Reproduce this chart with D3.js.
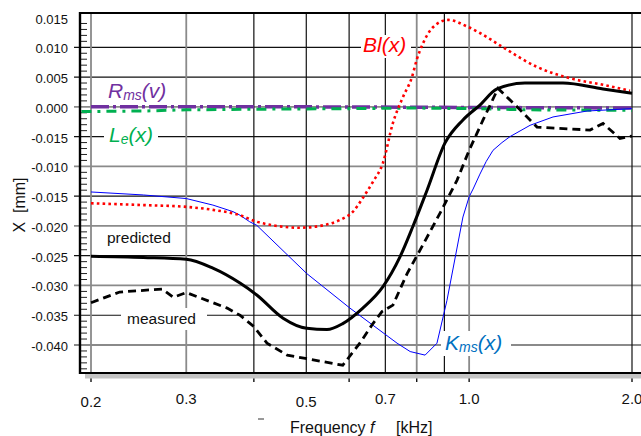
<!DOCTYPE html>
<html><head><meta charset="utf-8">
<script src="https://cdn.jsdelivr.net/npm/d3@7"></script>
<style>body{margin:0;background:#fff;} svg{display:block;font-family:"Liberation Sans",Arial,sans-serif;}</style>
</head><body><svg id="c" width="641" height="436"></svg>
<script>
// ---------- data ----------
const yTickValues = [0.015, 0.010, 0.005, 0.000, -0.005, -0.010, -0.015, -0.020, -0.025, -0.030, -0.035, -0.040];
const yTickLabels = ["0.015", "0.010", "0.005", "0.000", "-0.015", "-0.010", "-0.015", "-0.020", "-0.025", "-0.030", "-0.035", "-0.040"];
const xTickValues = [0.2, 0.3, 0.5, 0.7, 1.0, 2.0];
const xTickLabels = ["0.2", "0.3", "0.5", "0.7", "1.0", "2.0"];
const xGridValues = [0.2, 0.3, 0.4, 0.5, 0.6, 0.7, 0.8, 0.9, 1.0, 2.0];
const xMajorTickValues = [0.2, 0.4, 0.6, 0.8, 1.0, 2.0];
const xGrayGrid = [0.2, 0.3, 0.8, 1.0];
const yGrayGrid = [0.000, -0.010, -0.020, -0.030, -0.040];

// Bl(x) – red dotted
const blFreq  = [0.2, 0.25, 0.3, 0.336, 0.377, 0.405, 0.434, 0.487, 0.537, 0.577, 0.610, 0.636, 0.664, 0.693, 0.723, 0.755, 0.784, 0.8, 0.822, 0.858, 0.914, 0.991, 1.047, 1.155, 1.335, 1.536, 1.768, 1.983];
const blValue = [-0.0162, -0.0165, -0.0168, -0.0173, -0.0182, -0.0193, -0.0199, -0.0203, -0.0199, -0.0190, -0.0176, -0.0153, -0.0126, -0.0094, -0.0027, 0.0017, 0.0050, 0.0079, 0.0107, 0.0134, 0.0146, 0.0135, 0.0124, 0.0100, 0.0067, 0.0048, 0.0037, 0.0027];

// predicted – solid black
const predFreq  = [0.2, 0.25, 0.3, 0.336, 0.377, 0.405, 0.453, 0.501, 0.546, 0.584, 0.636, 0.693, 0.745, 0.787, 0.836, 0.902, 0.974, 1.047, 1.126, 1.268, 1.491, 1.768, 2.0];
const predValue = [-0.0251, -0.0253, -0.0256, -0.0271, -0.0296, -0.0316, -0.0355, -0.0372, -0.0374, -0.0364, -0.0338, -0.0302, -0.0252, -0.0201, -0.0140, -0.0061, -0.0022, 0.0003, 0.0030, 0.0040, 0.0040, 0.0030, 0.0023];

// measured – dashed black
const measFreq  = [0.2, 0.226, 0.271, 0.284, 0.3, 0.357, 0.377, 0.4, 0.423, 0.461, 0.584, 0.628, 0.664, 0.690, 0.723, 0.768, 0.811, 0.883, 0.950, 1.0, 1.061, 1.131, 1.242, 1.335, 1.673, 1.768, 1.900, 2.0];
const measValue = [-0.0329, -0.0311, -0.0306, -0.0320, -0.0312, -0.0338, -0.0350, -0.0369, -0.0397, -0.0417, -0.0434, -0.0397, -0.0364, -0.0344, -0.0333, -0.0280, -0.0241, -0.0179, -0.0123, -0.0073, -0.0022, 0.0031, -0.0005, -0.0034, -0.0039, -0.0028, -0.0053, -0.0049];

// Kms(x) – thin blue
const kmsFreq  = [0.2, 0.25, 0.3, 0.336, 0.366, 0.377, 0.393, 0.405, 0.501, 0.602, 0.736, 0.778, 0.829, 0.872, 0.910, 0.974, 1.0, 1.017, 1.047, 1.075, 1.107, 1.15, 1.19, 1.296, 1.429, 1.652, 2.0];
const kmsValue = [-0.0143, -0.0148, -0.0154, -0.0165, -0.0176, -0.0182, -0.0193, -0.0199, -0.0280, -0.0338, -0.0397, -0.0411, -0.0417, -0.0397, -0.0325, -0.0185, -0.0151, -0.0138, -0.0113, -0.0092, -0.0073, -0.0060, -0.0050, -0.0031, -0.0017, -0.0007, -0.0003];

// Rms(v) – purple dash-dot
const rmsFreq  = [0.2, 0.5, 1.0, 2.0];
const rmsValue = [0.0000, 0.0000, -0.0001, -0.0002];

// Le(x) – green dash-dot
const leFreq  = [0.192, 0.25, 0.3, 0.4, 0.6, 0.8, 1.0, 1.3, 2.0];
const leValue = [-0.0008, -0.0007, -0.0005, -0.0004, -0.0003, -0.0002, -0.0003, -0.0005, -0.0006];

// ---------- layout ----------
const L = 80, T = 13, R = 641, B = 373;
const svg = d3.select("#c");
const x = d3.scaleLog().domain([0.2, 2.0]).range([91, 632]);
const y = d3.scaleLinear().domain([0.010, -0.040]).range([47.3, 345]);

svg.append("defs").append("clipPath").attr("id", "clip")
  .append("rect").attr("x", L).attr("y", T).attr("width", R - L).attr("height", B - T);

// horizontal grid lines
const gridG = svg.append("g");
yTickValues.filter(v => v <= 0.0101).forEach(v => {
  const gray = yGrayGrid.some(g => Math.abs(g - v) < 1e-9);
  gridG.append("line").attr("x1", 74).attr("x2", R).attr("y1", y(v)).attr("y2", y(v))
    .attr("stroke", gray ? "#8a8a8a" : "#111").attr("stroke-width", gray ? 1.8 : 1.2);
});
// vertical grid lines
xGridValues.forEach(f => {
  const gray = xGrayGrid.some(g => Math.abs(g - f) < 1e-9);
  gridG.append("line").attr("x1", x(f)).attr("x2", x(f)).attr("y1", T).attr("y2", B)
    .attr("stroke", gray ? "#8a8a8a" : "#111").attr("stroke-width", gray ? 1.8 : 1.2);
});
// ticks below x axis
xMajorTickValues.forEach(f => {
  gridG.append("line").attr("x1", x(f)).attr("x2", x(f)).attr("y1", B).attr("y2", 382)
    .attr("stroke", "#111").attr("stroke-width", 1.4);
});
// minor ticks on y axis
d3.range(-44, 16).filter(k => k % 5 !== 0).forEach(k => {
  const v = k / 1000;
  gridG.append("line").attr("x1", L).attr("x2", 87).attr("y1", y(v)).attr("y2", y(v))
    .attr("stroke", "#222").attr("stroke-width", 1);
});

// label background boxes
const boxes = [[361, 35, 50, 23], [104, 78, 66, 25], [104, 121, 54, 29], [441, 331, 70, 25], [121, 308, 86, 22]];
boxes.forEach(b => svg.append("rect").attr("x", b[0]).attr("y", b[1]).attr("width", b[2]).attr("height", b[3]).attr("fill", "#fff"));

// series
const plot = svg.append("g").attr("clip-path", "url(#clip)");
function pts(fs, vs) { return fs.map((f, i) => [f, vs[i]]); }
const lineSmooth = d3.line().x(d => x(d[0])).y(d => y(d[1])).curve(d3.curveMonotoneX);
const lineLin = d3.line().x(d => x(d[0])).y(d => y(d[1]));

plot.append("path").attr("d", lineLin(pts(rmsFreq, rmsValue))).attr("fill", "none")
  .attr("stroke", "#7030a0").attr("stroke-width", 3.5).attr("stroke-dasharray", "18 4 3 4");
plot.append("path").attr("d", lineLin(pts(leFreq, leValue))).attr("fill", "none")
  .attr("stroke", "#00b050").attr("stroke-width", 3).attr("stroke-dasharray", "10 6 3 6");
plot.append("path").attr("d", lineLin(pts(kmsFreq, kmsValue))).attr("fill", "none")
  .attr("stroke", "#0000ff").attr("stroke-width", 1).attr("stroke-linejoin", "round");
plot.append("path").attr("d", lineSmooth(pts(blFreq, blValue))).attr("fill", "none")
  .attr("stroke", "#ff0000").attr("stroke-width", 2.6).attr("stroke-dasharray", "2.6 3.2");
plot.append("path").attr("d", lineSmooth(pts(predFreq, predValue))).attr("fill", "none")
  .attr("stroke", "#000").attr("stroke-width", 3).attr("stroke-linejoin", "round");
plot.append("path").attr("d", lineLin(pts(measFreq, measValue))).attr("fill", "none")
  .attr("stroke", "#000").attr("stroke-width", 2.8).attr("stroke-dasharray", "8 5");

// frame
svg.append("rect").attr("x", 85).attr("y", B + 1).attr("width", R - 85).attr("height", 4.5).attr("fill", "#c4c4c4");
svg.append("line").attr("x1", L).attr("x2", R).attr("y1", T).attr("y2", T).attr("stroke", "#000").attr("stroke-width", 2);
svg.append("line").attr("x1", L).attr("x2", R).attr("y1", B).attr("y2", B).attr("stroke", "#000").attr("stroke-width", 2);
svg.append("line").attr("x1", L).attr("x2", L).attr("y1", T - 1).attr("y2", B + 1).attr("stroke", "#000").attr("stroke-width", 2.4);

// y tick labels
yTickValues.forEach((v, i) => {
  svg.append("text").attr("x", 68).attr("y", y(v) + 6).attr("text-anchor", "end")
    .attr("font-size", 13).attr("fill", "#111").text(yTickLabels[i]);
});
// x tick labels
const lowered = new Set(["0.2", "0.5"]);
xTickValues.forEach((f, i) => {
  svg.append("text").attr("x", x(f)).attr("y", lowered.has(xTickLabels[i]) ? 406.5 : 403.5)
    .attr("text-anchor", "middle").attr("font-size", 15).attr("fill", "#111").text(xTickLabels[i]);
});

// axis titles
svg.append("text").attr("transform", "translate(25,205) rotate(-90)").attr("text-anchor", "middle")
  .attr("font-size", 16).attr("fill", "#111").attr("xml:space", "preserve").text("X  [mm]");
const xt = svg.append("text").attr("x", 290).attr("y", 433).attr("font-size", 16).attr("fill", "#111");
xt.append("tspan").text("Frequency ");
xt.append("tspan").attr("font-style", "italic").text("f");
svg.append("text").attr("x", 396).attr("y", 433).attr("font-size", 16).attr("fill", "#111").text("[kHz]");
svg.append("line").attr("x1", 258).attr("x2", 264).attr("y1", 419).attr("y2", 419).attr("stroke", "#333").attr("stroke-width", 1);

// series labels
function seriesLabel(px, py, main, sub, tail, color) {
  const t = svg.append("text").attr("x", px).attr("y", py).attr("font-size", 21)
    .attr("font-style", "italic").attr("fill", color);
  t.append("tspan").text(main);
  if (sub) t.append("tspan").attr("font-size", 14).attr("dy", 2).text(sub);
  t.append("tspan").attr("dy", sub ? -2 : 0).text(tail);
}
seriesLabel(363, 52, "Bl", null, "(x)", "#ff0000");
seriesLabel(108, 98, "R", "ms", "(v)", "#7030a0");
seriesLabel(109, 142, "L", "e", "(x)", "#00b050");
seriesLabel(445, 350, "K", "ms", "(x)", "#0070c0");

svg.append("text").attr("x", 107).attr("y", 243).attr("font-size", 15.5).attr("fill", "#111").text("predicted");
svg.append("text").attr("x", 127).attr("y", 324).attr("font-size", 15.5).attr("fill", "#111").text("measured");
</script>
</body></html>
